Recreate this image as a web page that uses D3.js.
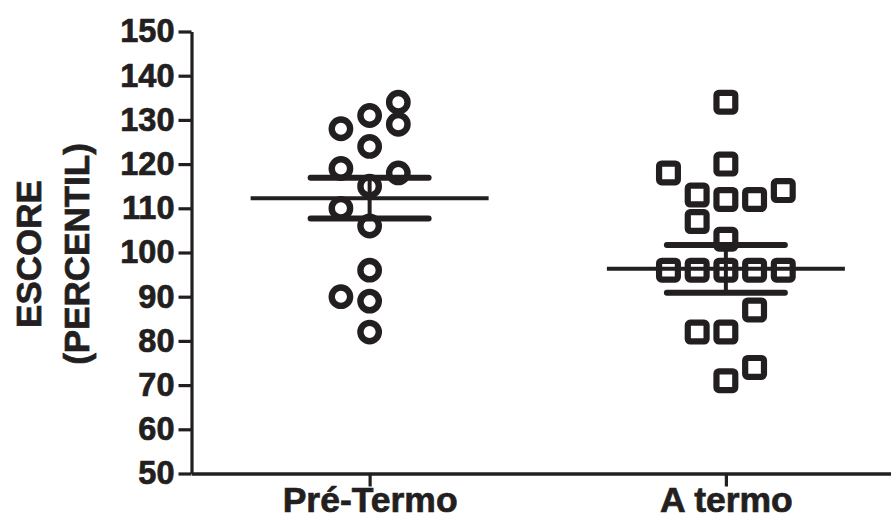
<!DOCTYPE html>
<meta charset="utf-8">
<style>
body { margin: 0; background: #fff; }
text {
    font-family: "Liberation Sans", Arial, sans-serif;
    font-weight: bold;
    fill: #231f20;
    stroke: #231f20;
    stroke-width: 0.7px;
  }
</style>
<body>
<script src="https://cdn.jsdelivr.net/npm/d3@7"></script>
<script>

// groups on the x axis
var categories = ["Pré-Termo", "A termo"];

// points, with the column (lane) each one sits in
var preTermoValues = [134, 129, 131, 128, 124, 119, 118, 115, 110, 106, 96, 90, 89, 82];
var preTermoLanes  = [1, 1, 0, -1, 0, -1, 1, 0, -1, 0, 0, -1, 0, 0];
var aTermoValues = [134, 120, 118, 114, 113, 112, 112, 107, 103, 96, 96, 96, 96, 96, 87, 82, 82, 74, 71];
var aTermoLanes  = [0, 0, -2, 2, -1, 0, 1, -1, 0, -2, -1, 0, 1, 2, 1, -1, 0, 1, 0];

// mean and error bar (SEM) as drawn
var means = [112.3, 96.3];
var sems = [4.6, 5.4];

var yTicks = [50, 60, 70, 80, 90, 100, 110, 120, 130, 140, 150];

var ink = "#231f20";
var width = 891, height = 520;

var svg = d3.select("body").append("svg")
    .attr("width", width)
    .attr("height", height);

// scales
var x = d3.scalePoint()
    .domain(categories)
    .range([191.5, 904])
    .padding(0.5);

var y = d3.scaleLinear()
    .domain([50, 150])
    .range([473.5, 31.5]);

var lane = d3.scaleLinear()
    .domain([-1, 1])
    .range([-28.7, 28.7]);

// y axis
var yAxis = svg.append("g")
    .attr("transform", "translate(191.5,0)")
    .call(d3.axisLeft(y).tickValues(yTicks).tickSize(13).tickSizeOuter(0).tickPadding(4));
yAxis.select(".domain").attr("stroke", ink).attr("stroke-width", 3.2);
yAxis.selectAll(".tick line").attr("stroke", ink).attr("stroke-width", 3.2);
yAxis.selectAll(".tick text")
    .attr("fill", ink)
    .style("font-size", "32.5px");

// x axis
var xAxis = svg.append("g")
    .attr("transform", "translate(0," + y(50) + ")")
    .call(d3.axisBottom(x).tickSize(13).tickSizeOuter(0).tickPadding(0.5));
xAxis.select(".domain").attr("stroke", ink).attr("stroke-width", 3.6);
xAxis.selectAll(".tick line").attr("stroke", ink).attr("stroke-width", 3.2);
xAxis.selectAll(".tick text")
    .attr("fill", ink)
    .style("font-size", "35.5px");

// y title, two lines
var title = svg.append("g")
    .attr("transform", "translate(0,254) rotate(-90)");
title.append("text")
    .attr("y", 41)
    .attr("text-anchor", "middle")
    .style("font-size", "35px")
    .text("ESCORE");
title.append("text")
    .attr("y", 89)
    .attr("text-anchor", "middle")
    .style("font-size", "35px")
    .text("(PERCENTIL)");

// points: circles for Pré-Termo
var pre = preTermoValues.map(function(v, i) { return {v: v, l: preTermoLanes[i]}; });
svg.selectAll(".pre")
    .data(pre)
    .enter().append("circle")
      .attr("class", "pre")
      .attr("cx", function(d) { return x(categories[0]) + lane(d.l); })
      .attr("cy", function(d) { return y(d.v); })
      .attr("r", 9.2)
      .attr("fill", "none")
      .attr("stroke", ink)
      .attr("stroke-width", 6.4);

// points: squares for A termo
var side = 18.8;
var aterm = aTermoValues.map(function(v, i) { return {v: v, l: aTermoLanes[i]}; });
svg.selectAll(".aterm")
    .data(aterm)
    .enter().append("rect")
      .attr("class", "aterm")
      .attr("x", function(d) { return x(categories[1]) + lane(d.l) - side / 2; })
      .attr("y", function(d) { return y(d.v) - side / 2; })
      .attr("width", side)
      .attr("height", side)
      .attr("rx", 2.5)
      .attr("fill", "none")
      .attr("stroke", ink)
      .attr("stroke-width", 6.2)
      .attr("stroke-linejoin", "round");

// mean line and SEM bars
var stats = categories.map(function(c, i) { return {c: c, m: means[i], s: sems[i]}; });
var g = svg.selectAll(".stat")
    .data(stats)
    .enter().append("g")
      .attr("class", "stat");

g.append("line")
    .attr("x1", function(d) { return x(d.c) - 119; })
    .attr("x2", function(d) { return x(d.c) + 119; })
    .attr("y1", function(d) { return y(d.m); })
    .attr("y2", function(d) { return y(d.m); })
    .attr("stroke", ink)
    .attr("stroke-width", 4);

g.append("line")
    .attr("x1", function(d) { return x(d.c); })
    .attr("x2", function(d) { return x(d.c); })
    .attr("y1", function(d) { return y(d.m - d.s); })
    .attr("y2", function(d) { return y(d.m + d.s); })
    .attr("stroke", ink)
    .attr("stroke-width", 4);

[-1, 1].forEach(function(k) {
  g.append("line")
      .attr("x1", function(d) { return x(d.c) - 59; })
      .attr("x2", function(d) { return x(d.c) + 59; })
      .attr("y1", function(d) { return y(d.m + k * d.s); })
      .attr("y2", function(d) { return y(d.m + k * d.s); })
      .attr("stroke", ink)
      .attr("stroke-width", 6)
      .attr("stroke-linecap", "round");
});

</script>
</body>
